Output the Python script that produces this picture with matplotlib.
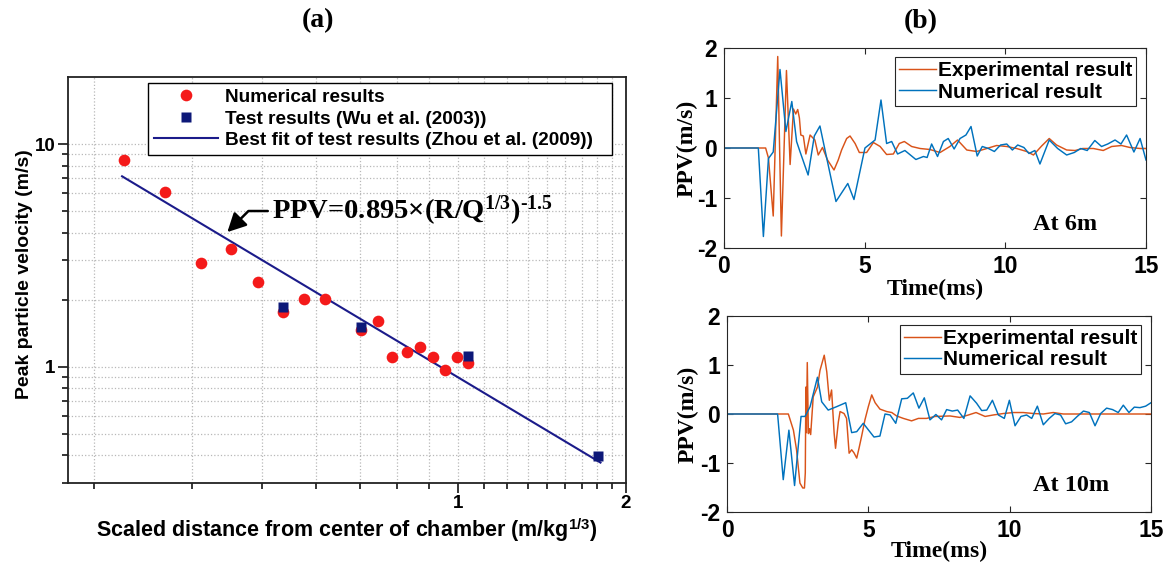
import numpy as np
import matplotlib
matplotlib.use("Agg")
import matplotlib.pyplot as plt
from matplotlib.font_manager import FontProperties
from matplotlib.ticker import NullFormatter

plt.rcParams['axes.unicode_minus'] = False
plt.rcParams['mathtext.fontset'] = 'custom'
plt.rcParams['mathtext.rm'] = 'Liberation Serif:bold'
plt.rcParams['mathtext.bf'] = 'Liberation Serif:bold'
plt.rcParams['mathtext.it'] = 'Liberation Serif:italic:bold'
plt.rcParams['mathtext.sf'] = 'Liberation Sans:bold'

SANS = 'Liberation Sans'
SERIF = 'Liberation Serif'

# ---------------- (a) PPV vs scaled distance ----------------
num_dist = [0.252, 0.2985, 0.346, 0.392, 0.438, 0.486, 0.530, 0.578, 0.670,
            0.719, 0.761, 0.810, 0.855, 0.902, 0.948, 0.996, 1.042]
num_ppv = [8.48, 6.09, 2.92, 3.38, 2.40, 1.76, 2.01, 2.01, 1.46,
           1.60, 1.10, 1.16, 1.22, 1.10, 0.965, 1.10, 1.04]
test_dist = [0.486, 0.670, 1.042, 1.78]
test_ppv = [1.85, 1.51, 1.12, 0.397]
fit_coef = 0.895
fit_exp = -1.5
fit_range = [0.25, 1.8]

# ---------------- (b) PPV time histories ----------------
t6_exp = [0, 1.48, 1.58, 1.75, 1.91, 2.04, 2.22, 2.35, 2.47, 2.55,
          2.62, 2.68, 2.73, 2.82, 2.91, 3.06, 3.23, 3.35, 3.50, 3.68,
          3.91, 4.06, 4.18, 4.36, 4.48, 4.66, 4.81, 5.07, 5.31, 5.55,
          5.78, 6.02, 6.23, 6.41, 6.67, 6.97, 7.32, 7.68, 8.03, 8.30,
          8.63, 8.98, 9.34, 9.69, 10.05, 10.40, 10.76, 11.00, 11.29, 11.56,
          11.82, 12.18, 12.48, 12.75, 13.13, 13.48, 13.78, 14.13, 14.43, 14.79,
          15.0]
v6_exp = [0, 0, -0.2, -1.36, 1.83, -1.76, 1.55, -0.33, 0.78, 0.68,
          0.77, 0.6, 0.26, 0.24, -0.12, 0.26, 0.16, -0.14, 0.01, -0.24,
          -0.44, -0.24, -0.04, 0.19, 0.24, 0.09, -0.09, -0.09, 0.11, 0.03,
          -0.13, -0.12, 0.09, 0.13, 0.03, -0.01, -0.03, -0.09, 0.03, 0.16,
          -0.04, -0.07, -0.01, 0.05, 0.03, -0.01, -0.07, -0.14, 0.04, 0.19,
          0.06, -0.04, -0.05, -0.01, -0.01, -0.05, 0.03, 0.05, 0.01, -0.01,
          -0.01]
t6_num = [0, 1.22, 1.40, 1.58, 1.75, 1.99, 2.20, 2.41, 2.58, 2.70,
          2.99, 3.21, 3.41, 3.59, 3.98, 4.40, 4.62, 5.01, 5.37, 5.58,
          5.78, 5.96, 6.17, 6.43, 6.82, 7.09, 7.22, 7.38, 7.59, 7.80,
          7.97, 8.18, 8.39, 8.60, 8.78, 9.00, 9.18, 9.40, 9.61, 9.83,
          10.05, 10.25, 10.44, 10.66, 10.84, 11.05, 11.23, 11.56, 11.86, 12.18,
          12.45, 12.68, 12.91, 13.18, 13.42, 13.64, 13.90, 14.11, 14.31, 14.57,
          14.79, 15.0]
v6_num = [0, 0, -1.77, -0.21, -0.08, 1.57, 0.33, 0.93, 0.13, -0.07,
          -0.54, 0.24, 0.44, -0.04, -1.07, -0.71, -1.03, 0.0, 0.16, 0.96,
          0.09, 0.13, -0.12, -0.05, -0.23, -0.17, -0.19, 0.08, -0.17, 0.13,
          0.19, -0.02, 0.19, 0.26, 0.43, -0.16, 0.03, -0.01, -0.07, 0.06,
          0.08, -0.04, 0.06, 0.01, -0.11, -0.05, -0.32, 0.16, -0.01, -0.14,
          -0.09, -0.01, -0.05, 0.15, 0.03, 0.08, 0.16, 0.08, 0.26, -0.08,
          0.19, -0.24]
t10_exp = [0, 2.17, 2.35, 2.46, 2.58, 2.68, 2.74, 2.77, 2.79, 2.81,
           2.84, 2.88, 2.92, 2.96, 3.05, 3.20, 3.29, 3.44, 3.53, 3.62,
           3.70, 3.79, 3.84, 3.94, 4.00, 4.14, 4.23, 4.32, 4.41, 4.49,
           4.59, 4.67, 4.76, 4.88, 5.00, 5.12, 5.24, 5.41, 5.65, 5.83,
           6.00, 6.24, 6.53, 6.77, 7.06, 7.36, 7.89, 8.24, 8.54, 8.81,
           9.13, 9.42, 9.78, 10.13, 10.48, 10.84, 11.19, 11.54, 11.90, 12.37,
           15.0]
v10_exp = [0, 0, -0.33, -0.73, -1.41, -1.51, -1.51, -1.20, 0.55, -0.38,
           1.05, -0.40, -0.30, -0.42, 0.35, 0.55, 0.89, 1.20, 0.86, 0.28,
           0.49, -0.39, -0.70, -0.16, 0.05, 0.01, -0.09, -0.80, -0.73, -0.79,
           -0.90, -0.70, -0.46, -0.12, 0.15, 0.39, 0.23, 0.10, 0.05, 0.03,
           -0.04, -0.09, -0.14, -0.09, -0.09, -0.05, -0.04, -0.07, -0.02, 0.03,
           -0.05, -0.02, 0.01, 0.03, 0.03, 0.01, 0.0, 0.03, 0.0, 0.0,
           0.0]
t10_num = [0, 1.79, 1.99, 2.19, 2.39, 2.62, 2.76, 2.94, 3.20, 3.35,
           3.58, 3.88, 4.20, 4.41, 4.59, 4.82, 5.20, 5.41, 5.59, 5.77,
           5.97, 6.18, 6.38, 6.59, 6.79, 6.98, 7.18, 7.39, 7.59, 7.77,
           7.97, 8.16, 8.38, 8.60, 8.83, 9.01, 9.19, 9.39, 9.60, 9.81,
           9.99, 10.19, 10.40, 10.60, 10.78, 10.98, 11.19, 11.40, 11.60, 11.80,
           11.98, 12.19, 12.39, 12.61, 12.82, 13.02, 13.22, 13.43, 13.64, 13.84,
           14.02, 14.22, 14.41, 14.61, 14.81, 15.0]
v10_num = [0, 0, -1.34, -0.33, -1.46, -0.05, -0.05, 0.15, 0.75, 0.25,
           0.08, 0.15, 0.23, -0.38, -0.36, -0.19, -0.47, -0.45, 0.0, -0.02,
           -0.19, 0.31, 0.32, 0.43, 0.12, 0.33, -0.12, -0.01, -0.12, 0.09,
           0.06, 0.08, -0.09, 0.37, 0.22, 0.07, 0.08, 0.28, -0.02, -0.09,
           0.28, -0.24, -0.05, -0.02, -0.09, 0.16, -0.22, -0.09, 0.01, -0.02,
           -0.20, -0.16, -0.05, 0.06, 0.03, -0.24, 0.01, 0.12, 0.09, 0.03,
           0.18, 0.03, 0.14, 0.13, 0.16, 0.23]

W, H = 1170, 565
fig = plt.figure(figsize=(W / 100, H / 100), dpi=100)


def frac(left, top, right, bottom):
    return [left / W, 1 - bottom / H, (right - left) / W, (bottom - top) / H]


# ---------------- panel (a) ----------------
axa = fig.add_axes(frac(68, 77, 626, 483))
axa.set_xscale('log')
axa.set_yscale('log')
axa.set_xlim(0.2, 2)
axa.set_ylim(0.3, 20)

axa.set_xticks([1, 2], labels=['1', '2'])
axa.set_xticks([k / 9 for k in range(2, 18) if k != 9], minor=True)
axa.xaxis.set_minor_formatter(NullFormatter())
axa.set_yticks([1, 10], labels=['1', '10'])
axa.set_yticks([m * d for d in (0.1, 1) for m in range(2, 10) if 0.3 <= m * d < 20],
               minor=True)
axa.yaxis.set_minor_formatter(NullFormatter())

axa.grid(True, which='both', ls=':', color='#b8b8b8', lw=0.9)
axa.set_axisbelow(True)
axa.tick_params(which='both', direction='out', top=False, right=False, width=1.1)
axa.tick_params(which='major', length=7, pad=2)
axa.tick_params(which='minor', length=4.5)
for lab in axa.get_xticklabels() + axa.get_yticklabels():
    lab.set_fontproperties(FontProperties(family=SANS, weight='bold', size=13.5))
for sp in axa.spines.values():
    sp.set_linewidth(1.3)
    sp.set_color('#222222')

xf = np.geomspace(fit_range[0], fit_range[1], 100)
axa.plot(xf, fit_coef * xf ** fit_exp, color='#1b1b8a', lw=1.5, zorder=2,
         label='Best fit of test results (Zhou et al. (2009))')
axa.plot(num_dist, num_ppv, 'o', color='#f41a1a', ms=8.4, mec='none', zorder=3,
         label='Numerical results')
axa.plot(test_dist, test_ppv, 's', color='#0d1878', ms=7, mec='none', zorder=4,
         label='Test results (Wu et al. (2003))')

h, l = axa.get_legend_handles_labels()
order = [1, 2, 0]
leg = axa.legend([h[i] for i in order], [l[i] for i in order],
                 loc='upper left', bbox_to_anchor=(0.143, 0.803, 0.832, 0.182),
                 mode='expand',
                 prop=FontProperties(family=SANS, weight='bold', size=13.7),
                 fancybox=False, edgecolor='black', framealpha=1,
                 borderpad=0.3, labelspacing=0.22, handlelength=3.4,
                 handletextpad=0.35, borderaxespad=0)
leg.get_frame().set_linewidth(1.0)

axa.annotate('PPV=0.895×(R/Q$^{\\mathrm{1/3}}$)$^{\\mathrm{\u20101.5}}$',
             xy=(0.386, 4.02), xytext=(0.464, 5.0), textcoords='data',
             fontsize=20.5, family=SERIF, weight='bold', ha='left', va='center',
             arrowprops=dict(arrowstyle='-|>,head_length=0.55,head_width=0.28',
                             color='black', lw=1.8,
                             connectionstyle='angle,angleA=0,angleB=45,rad=0',
                             relpos=(0, 0.5), shrinkA=1, shrinkB=0))

axa.set_xlabel('Scaled distance from center of chamber (m/kg$^{\\mathsf{1/3}}$)',
               fontproperties=FontProperties(family=SANS, weight='bold', size=15.5),
               labelpad=3)
axa.set_ylabel('Peak particle velocity (m/s)',
               fontproperties=FontProperties(family=SANS, weight='bold', size=14))
axa.yaxis.set_label_coords(-0.062, 0.515)

fig.text(318 / W, 1 - 21 / H, '(a)', ha='center', va='center',
         family=SERIF, weight='bold', size=20)
fig.text(921 / W, 1 - 22 / H, '(b)', ha='center', va='center',
         family=SERIF, weight='bold', size=20)

# ---------------- panel (b) ----------------
EXP_C = '#D95319'
NUM_C = '#0072BD'


def style_b(ax, station, txt_xy, ylab_x, xlab_y):
    ax.set_xlim(0, 15)
    ax.set_ylim(-2, 2)
    ax.set_xticks([0, 5, 10, 15])
    ax.set_yticks([-2, -1, 0, 1, 2])
    ax.tick_params(direction='in', top=True, right=True, length=4.5, width=0.8,
                   pad=5, color='#262626')
    for lab in ax.get_xticklabels() + ax.get_yticklabels():
        lab.set_fontproperties(FontProperties(family=SANS, weight='bold', size=16.5))
    for sp in ax.spines.values():
        sp.set_linewidth(0.8)
        sp.set_color('#262626')
    lg = ax.legend(loc='upper right', bbox_to_anchor=(0.977, 0.955),
                   prop=FontProperties(family=SANS, weight='bold', size=15),
                   fancybox=False, edgecolor='#262626', framealpha=1,
                   borderpad=0.2, labelspacing=0.12, handlelength=1.75,
                   handletextpad=0.1, borderaxespad=0)
    lg.get_frame().set_linewidth(0.8)
    ax.text(txt_xy[0], txt_xy[1], station, transform=ax.transAxes,
            ha='center', va='center', family=SERIF, weight='bold', size=17.5)
    ax.set_ylabel('PPV(m/s)', family=SERIF, weight='bold', size=17)
    ax.yaxis.set_label_coords(ylab_x, 0.5)
    ax.set_xlabel('Time(ms)', family=SERIF, weight='bold', size=17)
    ax.xaxis.set_label_coords(0.5, xlab_y)


ax6 = fig.add_axes(frac(724, 48, 1146, 248))
ax6.plot(t6_exp, v6_exp, color=EXP_C, lw=1.05, label='Experimental result')
ax6.plot(t6_num, v6_num, color=NUM_C, lw=1.05, label='Numerical result')
style_b(ax6, 'At 6m', (0.808, 0.12), -0.062, -0.155)

ax10 = fig.add_axes(frac(727, 316, 1151, 512))
ax10.plot(t10_exp, v10_exp, color=EXP_C, lw=1.05, label='Experimental result')
ax10.plot(t10_num, v10_num, color=NUM_C, lw=1.05, label='Numerical result')
style_b(ax10, 'At 10m', (0.811, 0.133), -0.068, -0.148)

fig.savefig('out.png', dpi=100)
